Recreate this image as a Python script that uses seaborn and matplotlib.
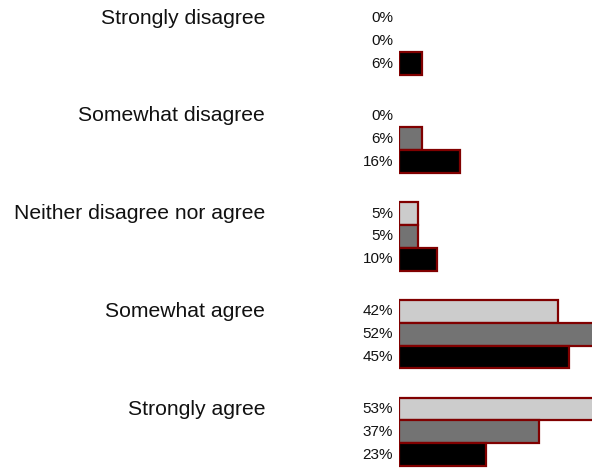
import matplotlib
matplotlib.use('Agg')
import matplotlib.pyplot as plt
import seaborn as sns
import pandas as pd

categories = ['Strongly disagree', 'Somewhat disagree', 'Neither disagree nor agree',
              'Somewhat agree', 'Strongly agree']
series_names = ['Series 1', 'Series 2', 'Series 3']
series_1 = [0, 0, 5, 42, 53]
series_2 = [0, 6, 5, 52, 37]
series_3 = [6, 16, 10, 45, 23]
colors = ['#cccccc', '#737373', '#000000']

df = pd.DataFrame({
    'category': categories * 3,
    'series': [s for s in series_names for _ in categories],
    'value': series_1 + series_2 + series_3,
})

sns.set_style('white')
plt.rcParams['font.family'] = ['Liberation Sans', 'DejaVu Sans']

fig = plt.figure(figsize=(5.92, 4.69), dpi=100)
ax = fig.add_axes([399 / 592, 0, 193 / 592, 1])

sns.barplot(data=df, x='value', y='category', hue='series', orient='h',
            order=categories, hue_order=series_names, palette=colors,
            width=0.7, gap=0, edgecolor='#800000', linewidth=1.6,
            legend=False, ax=ax)

ax.set_xlim(0, 51)
ax.set_ylim(4.38, -0.42)
ax.axis('off')

# hide the outline of empty (0%) bars
for p in ax.patches:
    if p.get_width() == 0:
        p.set_visible(False)

# percentage labels just left of the bars
for cont in ax.containers:
    for bar, val in zip(cont, cont.datavalues):
        yc = bar.get_y() + bar.get_height() / 2
        ax.annotate(f'{val:.0f}%', xy=(0, yc), xytext=(-6, 0),
                    textcoords='offset pixels', ha='right', va='center',
                    fontsize=11, color='#111111', annotation_clip=False)

# category labels aligned with the first bar of each group
for bar, cat in zip(ax.containers[0], categories):
    yc = bar.get_y() + bar.get_height() / 2
    ax.annotate(cat, xy=(0, yc), xytext=(-134, 0), textcoords='offset pixels',
                ha='right', va='center', fontsize=15.2, color='#111111',
                annotation_clip=False)

fig.savefig('out.png', dpi=100)
